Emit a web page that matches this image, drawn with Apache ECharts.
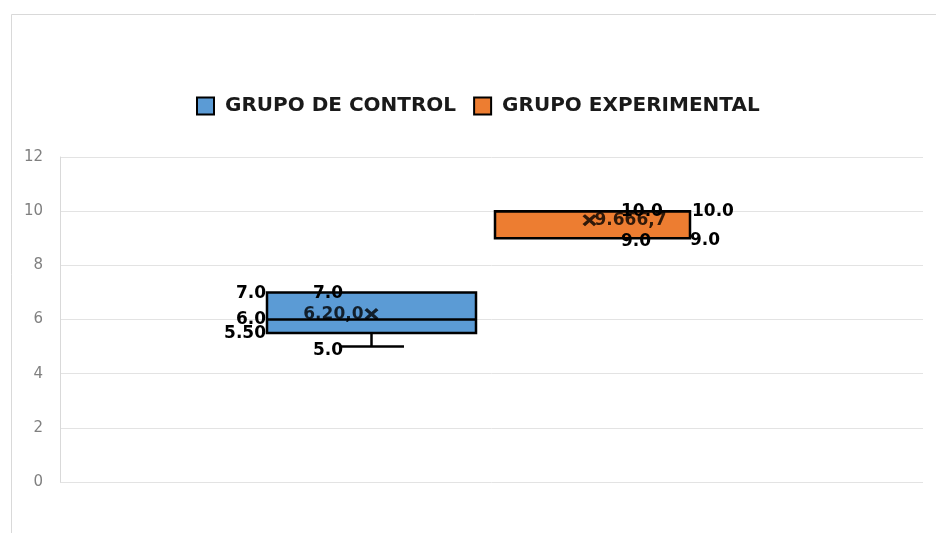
<!DOCTYPE html>
<html>
<head>
<meta charset="utf-8">
<title>Grupo de control vs grupo experimental</title>
<script src="https://cdn.jsdelivr.net/npm/echarts@6/dist/echarts.min.js"></script>
<style>
  html, body { margin: 0; padding: 0; background: #fff; }
  #chart { width: 936px; height: 533px; }
</style>
</head>
<body>
<div id="chart"></div>
<script>
// --- Data ---
const categories = ['GRUPO DE CONTROL', 'GRUPO EXPERIMENTAL'];
// min, Q1, median, Q3, max
const controlStats = [5.0, 5.5, 6.0, 7.0, 7.0];
const experimentalStats = [9.0, 9.0, 10.0, 10.0, 10.0];
const meanValues = [6.2, 9.6667];
// label texts as printed in the original (same order as stats)
const controlLabels = ['5.0', '5.50', '6.0', '7.0', '7.0'];
const experimentalLabels = ['9.0', '9.0', '10.0', '10.0', '10.0'];
const meanLabels = ['6.20,0', '9.666,7'];
const yMin = 0, yMax = 12, yStep = 2;

const colors = ['#5B9BD5', '#ED7D31'];
const labelFont = 'bold 17px "DejaVu Sans"';

// --- Box renderer (custom series, coords from the axes) ---
function makeBoxRenderer(color, boxRatio, labels, side) {
    return function (params, api) {
        const idx = api.value(0);
        const vals = [api.value(1), api.value(2), api.value(3), api.value(4), api.value(5)];
        const ys = vals.map(v => api.coord([idx, v])[1]);
        const cx = api.coord([idx, vals[2]])[0];
        const band = api.size([1, 0])[0];
        const w = band * boxRatio;
        const capW = band * 0.294;
        const left = cx - w / 2, right = cx + w / 2;
        const line = (x1, y1, x2, y2) => ({
            type: 'line', shape: { x1, y1, x2, y2 },
            style: { stroke: '#000', lineWidth: 2.5 }
        });
        const text = (str, x, y, align) => ({
            type: 'text', x, y, z2: 10,
            style: { text: str, font: labelFont, fill: '#000', align, textAlign: align, verticalAlign: 'middle', textVerticalAlign: 'middle' }
        });
        const kids = [];
        if (vals[0] < vals[1]) {
            kids.push(line(cx, ys[1], cx, ys[0]));
            kids.push(line(cx - capW / 2, ys[0], cx + capW / 2, ys[0]));
        }
        if (vals[4] > vals[3]) {
            kids.push(line(cx, ys[3], cx, ys[4]));
            kids.push(line(cx - capW / 2, ys[4], cx + capW / 2, ys[4]));
        }
        kids.push({
            type: 'rect', shape: { x: left, y: ys[3], width: w, height: ys[1] - ys[3] },
            style: { fill: color, stroke: '#000', lineWidth: 2.5 }
        });
        kids.push(line(left, ys[2], right, ys[2]));

        if (side === 'left') {
            kids.push(text(labels[3], left - 1, ys[3] + 1, 'right'));
            kids.push(text(labels[2], left - 1, ys[2], 'right'));
            kids.push(text(labels[1], left - 1, ys[1] + 1, 'right'));
            kids.push(text(labels[4], cx - capW / 2 + 4, ys[4] + 1, 'right'));
            kids.push(text(labels[0], cx - capW / 2 + 4, ys[0] + 4, 'right'));
        } else {
            kids.push(text(labels[3], right + 2, ys[3], 'left'));
            kids.push(text(labels[1], right, ys[1] + 2, 'left'));
            kids.push(text(labels[4], cx + capW / 2 - 4, ys[4], 'left'));
            kids.push(text(labels[0], cx + capW / 2 - 4, ys[0] + 3, 'left'));
        }
        return { type: 'group', children: kids };
    };
}

const chart = echarts.init(document.getElementById('chart'));

const option = {
    animation: false,
    backgroundColor: '#fff',
    graphic: [{
        type: 'rect', left: 9, top: 12, z: -1,
        shape: { width: 1000, height: 1000 },
        style: { fill: 'none', stroke: '#d9d9d9', lineWidth: 1 }
    }],
    legend: {
        left: 196, top: 96, padding: 0,
        icon: 'rect', itemWidth: 17, itemHeight: 17, itemGap: 17,
        itemStyle: { borderColor: '#000', borderWidth: 2 },
        textStyle: { fontFamily: 'DejaVu Sans', fontWeight: 'bold', fontSize: 20, color: '#1a1a1a', padding: [0, 0, 0, 6] },
        data: categories
    },
    grid: [
        { left: 60, right: 13, top: 157, bottom: 51 },
        { left: 261, width: 442, top: 157, bottom: 51 }
    ],
    xAxis: [
        { type: 'category', gridIndex: 0, data: [''], show: false },
        { type: 'category', gridIndex: 1, data: categories, show: false }
    ],
    yAxis: [
        {
            type: 'value', gridIndex: 0, min: yMin, max: yMax, interval: yStep,
            axisLine: { show: true, lineStyle: { color: '#d9d9d9' } },
            axisTick: { show: false },
            axisLabel: { color: '#808080', fontSize: 15, fontFamily: 'DejaVu Sans', margin: 17 },
            splitLine: { lineStyle: { color: '#e3e3e3' } }
        },
        { type: 'value', gridIndex: 1, min: yMin, max: yMax, show: false }
    ],
    series: [
        {
            name: categories[0], type: 'custom', xAxisIndex: 1, yAxisIndex: 1,
            itemStyle: { color: colors[0] },
            renderItem: makeBoxRenderer(colors[0], 209 / 221, controlLabels, 'left'),
            data: [[0, ...controlStats]]
        },
        {
            name: categories[1], type: 'custom', xAxisIndex: 1, yAxisIndex: 1,
            itemStyle: { color: colors[1] },
            renderItem: makeBoxRenderer(colors[1], 195 / 221, experimentalLabels, 'right'),
            data: [[1, ...experimentalStats]]
        },
        {
            name: 'media', type: 'scatter', xAxisIndex: 1, yAxisIndex: 1, z: 5,
            symbol: 'path://M0,1.8L1.8,0L5,3.2L8.2,0L10,1.8L6.8,5L10,8.2L8.2,10L5,6.8L1.8,10L0,8.2L3.2,5Z',
            symbolSize: [14, 12],
            itemStyle: { color: '#000' },
            label: {
                show: true, color: '#000', fontFamily: 'DejaVu Sans', fontWeight: 'bold', fontSize: 17,
                distance: 1,
                formatter: p => meanLabels[p.dataIndex]
            },
            data: [
                { value: [0, meanValues[0]], label: { position: 'left' } },
                { value: [1, meanValues[1]], symbolOffset: [-3, 0], label: { position: 'right', offset: [-3, 0] } }
            ]
        }
    ]
};
chart.setOption(option);
</script>
</body>
</html>
